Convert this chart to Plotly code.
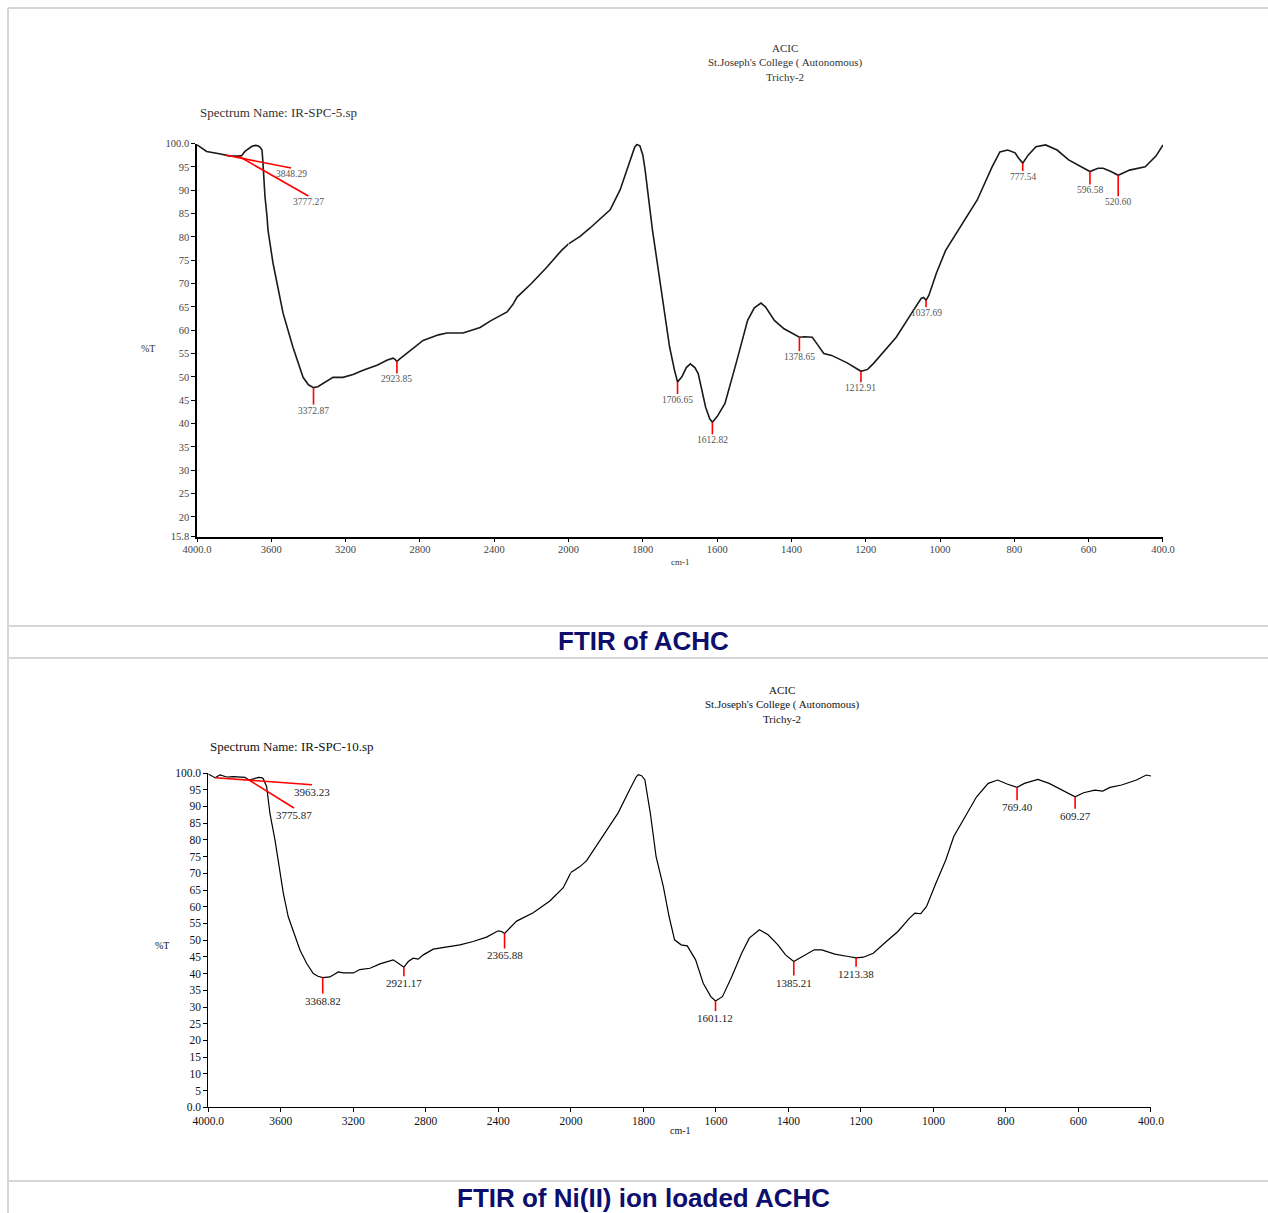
import numpy as np
import plotly.graph_objects as go

# ---------------- FTIR of ACHC (IR-SPC-5.sp) ----------------
achc_wn = [4000, 3948, 3880, 3822, 3780, 3760, 3742, 3720, 3704, 3685, 3672, 3660, 3650,
           3645, 3634, 3623, 3618, 3591, 3537, 3483, 3429, 3400, 3372.87, 3350, 3322, 3268,
           3214, 3160, 3106, 3031, 2975, 2945, 2935, 2923.85, 2910, 2870, 2783, 2700, 2654,
           2568, 2476, 2420, 2385, 2331, 2300, 2277, 2200, 2117, 2040, 2000, 1969, 1942,
           1888, 1861, 1834, 1822, 1816, 1808, 1800, 1794, 1774, 1754, 1728, 1715, 1706.65,
           1695, 1683, 1672, 1660, 1651, 1631, 1620, 1612.82, 1600, 1579, 1549, 1518, 1500,
           1482, 1470, 1446, 1420, 1378.65, 1365, 1344, 1335, 1313, 1292, 1250, 1212.91,
           1195, 1179, 1150, 1118, 1077, 1051, 1044, 1037.69, 1030, 1010, 985, 950, 900,
           860, 839, 818, 798, 790, 777.54, 763, 742, 716, 685, 654, 623, 596.58, 575, 561,
           540, 520.60, 490, 448, 419, 400]
achc_t = [99.7, 98.3, 97.8, 97.3, 97.3, 97.4, 98.3, 99.0, 99.4, 99.6, 99.5, 99.2, 98.6,
          95.9, 88.6, 84.3, 81.5, 74.4, 63.7, 56.3, 49.9, 48.3, 47.7, 47.9, 48.6, 49.9,
          49.9, 50.5, 51.4, 52.5, 53.6, 54.0, 53.8, 53.3, 53.8, 55.1, 57.8, 59.0, 59.4,
          59.4, 60.6, 62.0, 62.8, 63.9, 65.5, 67.1, 70.0, 73.5, 77.0, 78.5, 80.1, 81.9,
          85.8, 90.1, 96.6, 99.2, 99.8, 99.5, 97.5, 94.4, 81.4, 70.7, 56.4, 51.5, 48.9,
          50.0, 52.0, 52.8, 52.0, 50.7, 43.5, 41.0, 40.3, 41.5, 44.3, 52.9, 62.1, 64.8,
          65.8, 65.0, 62.1, 60.3, 58.5, 58.6, 58.5, 57.5, 55.0, 54.6, 53.0, 51.2,
          51.6, 52.9, 55.5, 58.5, 63.6, 66.8, 67.0, 66.4, 67.5, 72.2, 77.1, 81.5, 87.9,
          95.0, 98.2, 98.6, 98.0, 97.0, 95.8, 97.5, 99.3, 99.7, 98.6, 96.5, 95.1, 94.0, 94.7, 94.7,
          94.0, 93.2, 94.3, 95.0, 97.3, 99.7]
achc_peaks = [3848.29, 3777.27, 3372.87, 2923.85, 1706.65, 1612.82, 1378.65, 1212.91,
              1037.69, 777.54, 596.58, 520.60]

# ---------------- FTIR of Ni(II) ion loaded ACHC (IR-SPC-10.sp) ----------------
ni_wn = [4000, 3963.23, 3935, 3899, 3860, 3825, 3798, 3775.87, 3750, 3724, 3705, 3697, 3678,
         3660, 3632, 3614, 3586, 3559, 3531, 3494, 3457, 3421, 3395, 3368.82, 3329, 3283,
         3256, 3220, 3200, 3164, 3108, 3053, 2980, 2952, 2921.17, 2897, 2870, 2842, 2814,
         2759, 2686, 2612, 2539, 2465, 2401, 2382, 2365.88, 2336, 2299, 2208, 2116, 2042,
         2000, 1975, 1957, 1912, 1870, 1838, 1820, 1814, 1805, 1796, 1781, 1765, 1745,
         1729, 1714, 1696, 1679, 1656, 1635, 1614, 1601.12, 1582, 1556, 1529, 1508, 1480,
         1456, 1429, 1408, 1385.21, 1361, 1329, 1308, 1272, 1235, 1213.38, 1193, 1166, 1130,
         1098, 1066, 1051, 1035, 1019, 993, 966, 944, 912, 881, 849, 823, 797, 769.40,
         749, 712, 681, 649, 609.27, 586, 555, 533, 513, 481, 440, 413, 400]
ni_t = [99.7, 98.6, 99.4, 98.8, 98.9, 98.9, 98.7, 97.9, 98.3, 98.7, 98.6, 98.3, 95.9,
        87.9, 79.9, 73.9, 64.0, 57.0, 52.5, 47.0, 43.0, 40.0, 39.2, 38.8, 39.0, 40.5,
        40.2, 40.1, 40.2, 41.2, 41.6, 42.9, 44.1, 43.1, 41.9, 43.6, 44.6, 44.3, 45.6,
        47.3, 47.9, 48.6, 49.6, 50.9, 52.8, 52.6, 52.0, 53.7, 55.7, 58.2, 61.7, 65.7,
        70.2, 72.0, 73.7, 81.0, 88.0, 95.0, 98.8, 99.5, 99.2, 98.0, 88.1, 75.0, 66.0,
        57.0, 50.1, 48.6, 48.3, 44.1, 37.1, 33.1, 31.8, 33.1, 39.1, 46.1, 50.6, 53.1,
        51.6, 48.6, 45.6, 43.6, 45.1, 47.1, 47.1, 45.8, 45.1, 44.7, 44.9, 46.1, 49.6,
        52.6, 56.6, 58.1, 57.9, 60.1, 67.1, 74.0, 81.0, 86.9, 92.9, 96.9, 97.9, 96.7, 95.7,
        96.9, 98.1, 96.9, 95.1, 92.9, 94.1, 94.9, 94.6, 95.7, 96.4, 97.9, 99.4, 99.1]
ni_peaks = [3963.23, 3775.87, 3368.82, 2921.17, 2365.88, 1601.12, 1385.21, 1213.38,
            769.40, 609.27]

# axis ticks (the wavenumber scale doubles its resolution below 2000 cm-1)
x_hi_ticks = [4000, 3600, 3200, 2800, 2400, 2000]
x_hi_text = ["4000.0", "3600", "3200", "2800", "2400", "2000"]
x_lo_ticks = [1800, 1600, 1400, 1200, 1000, 800, 600, 400]
x_lo_text = ["1800", "1600", "1400", "1200", "1000", "800", "600", "400.0"]
achc_yticks = [15.8, 20, 25, 30, 35, 40, 45, 50, 55, 60, 65, 70, 75, 80, 85, 90, 95, 100]
achc_ytext = ["15.8"] + [str(v) for v in achc_yticks[1:-1]] + ["100.0"]
ni_yticks = list(range(0, 101, 5))
ni_ytext = ["0.0"] + [str(v) for v in ni_yticks[1:-1]] + ["100.0"]

header_text = "ACIC<br>St.Joseph's College ( Autonomous)<br>Trichy-2"

# ---------------- page geometry (pixels) ----------------
W, H = 1268, 1213


def fx(x):
    return x / W


def fy(y):
    return 1 - y / H


SERIF = "Liberation Serif, Times New Roman, serif"
SANS = "Liberation Sans, Arial, sans-serif"

fig = go.Figure()


def split_at_2000(wn, t):
    wn = np.asarray(wn, float)
    t = np.asarray(t, float)
    hi = wn >= 2000
    lo = wn <= 2000
    return (wn[hi], t[hi]), (wn[lo], t[lo])


def value_at(wn, t, w):
    wn = np.asarray(wn, float)[::-1]
    t = np.asarray(t, float)[::-1]
    return float(np.interp(w, wn, t))


panels = [
    dict(wn=achc_wn, t=achc_t, peaks=achc_peaks, xa=("x", "x2"), ya="y",
         line_w=1.6, color="#1a1a1a", lab_size=9.5, lab_color="#555555",
         leaders=[(66, 13), (70, 40), (0, 17), (0, 12), (0, 12), (0, 12), (0, 14),
                  (0, 11), (0, 7), (0, 8), (0, 13), (0, 21)]),
    dict(wn=ni_wn, t=ni_t, peaks=ni_peaks, xa=("x3", "x4"), ya="y2",
         line_w=1.2, color="#000000", lab_size=11, lab_color="#222222",
         leaders=[(97, 7), (45, 28), (0, 16), (0, 9), (0, 15), (0, 10), (0, 14),
                  (0, 9), (0, 13), (0, 12)]),
]

shapes = []
annotations = []

for p in panels:
    (w_hi, t_hi), (w_lo, t_lo) = split_at_2000(p["wn"], p["t"])
    for (ww, tt), xa in zip([(w_hi, t_hi), (w_lo, t_lo)], p["xa"]):
        fig.add_trace(go.Scatter(x=ww, y=tt, mode="lines", xaxis=xa, yaxis=p["ya"],
                                 line=dict(color=p["color"], width=p["line_w"]),
                                 showlegend=False, hoverinfo="skip"))
    for w, (dx, dy) in zip(p["peaks"], p["leaders"]):
        xa = p["xa"][0] if w >= 2000 else p["xa"][1]
        v = value_at(p["wn"], p["t"], w)
        shapes.append(dict(type="line", xref=xa, yref=p["ya"],
                           xsizemode="pixel", ysizemode="pixel",
                           xanchor=w, yanchor=v, x0=0, x1=dx, y0=0, y1=-dy,
                           line=dict(color="#ff0000", width=1.6)))
        annotations.append(dict(x=w, y=v, xref=xa, yref=p["ya"], text=f"{w:.2f}",
                                xshift=dx, yshift=-(dy - 1), xanchor="center",
                                yanchor="top", showarrow=False,
                                font=dict(family=SERIF, size=p["lab_size"],
                                          color=p["lab_color"])))


# ---------------- axes ----------------
def axis(domain, rng, ticks, text, anchor, size, color, lw, standoff=0):
    return dict(domain=domain, range=rng, tickmode="array", tickvals=ticks,
                ticktext=text, showgrid=False, zeroline=False, showline=True,
                linecolor="black", linewidth=lw, ticks="outside", ticklen=4,
                tickcolor="black", anchor=anchor, automargin=False,
                ticklabelstandoff=standoff,
                tickfont=dict(family=SERIF, size=size, color=color))


top_split = 197 + 5 * (1163 - 197) / 13
bot_split = 208.3 + 5 * (1151 - 208.3) / 13

layout_axes = dict(
    xaxis=axis([fx(197), fx(top_split)], [4000, 2000], x_hi_ticks, x_hi_text, "y", 10.5, "#444444", 1.5, -2),
    xaxis2=axis([fx(top_split), fx(1163)], [2000, 400], x_lo_ticks, x_lo_text, "y", 10.5, "#444444", 1.5, -2),
    yaxis=axis([fy(536.5), fy(143.5)], [15.8, 100], achc_yticks, achc_ytext, "x", 10.5, "#444444", 1.5),
    xaxis3=axis([fx(208.3), fx(bot_split)], [4000, 2000], x_hi_ticks, x_hi_text, "y2", 11.5, "#111111", 1, -1),
    xaxis4=axis([fx(bot_split), fx(1151)], [2000, 400], x_lo_ticks, x_lo_text, "y2", 11.5, "#111111", 1, -1),
    yaxis2=axis([fy(1107.3), fy(773)], [0, 100], ni_yticks, ni_ytext, "x3", 11.5, "#111111", 1),
)


# ---------------- page texts ----------------
def text(x, y, s, size, color, family=SERIF, xanchor="center", bold=False):
    annotations.append(dict(x=fx(x), y=fy(y), xref="paper", yref="paper", text=s,
                            showarrow=False, xanchor=xanchor, yanchor="middle",
                            align="center",
                            font=dict(family=family, size=size, color=color,
                                      weight="bold" if bold else "normal")))


# ACHC panel
text(785, 63, header_text, 11, "#333333")
text(198, 112, "Spectrum Name: IR-SPC-5.sp", 13, "#333333", xanchor="left")
text(148, 348, "%T", 10, "#333333")
text(680, 562, "cm-1", 9, "#333333")

# Ni(II) panel
text(782, 704, header_text, 11, "#111111")
text(208, 746, "Spectrum Name: IR-SPC-10.sp", 13, "#111111", xanchor="left")
text(162, 945, "%T", 10, "#111111")
text(680, 1130, "cm-1", 10, "#111111")

# captions
text(643, 641, "FTIR of ACHC", 26, "#0e0e6c", family=SANS, bold=True)
text(643, 1198, "FTIR of Ni(II) ion loaded ACHC", 26, "#0e0e6c", family=SANS, bold=True)

# table rules around the two figure cells
GRID = dict(color="#d6d6d6", width=2)
shapes.append(dict(type="line", xref="paper", yref="paper", x0=fx(8), x1=1, y0=fy(8), y1=fy(8), line=GRID))
shapes.append(dict(type="line", xref="paper", yref="paper", x0=fx(8), x1=fx(8), y0=fy(8), y1=0, line=GRID))
for yy in (626, 658, 1181):
    shapes.append(dict(type="line", xref="paper", yref="paper", x0=fx(8), x1=1, y0=fy(yy), y1=fy(yy), line=GRID))

fig.update_layout(width=W, height=H, margin=dict(l=0, r=0, t=0, b=0, autoexpand=False),
                  paper_bgcolor="white", plot_bgcolor="white",
                  shapes=shapes, annotations=annotations, **layout_axes)

fig.write_html("out.html")
